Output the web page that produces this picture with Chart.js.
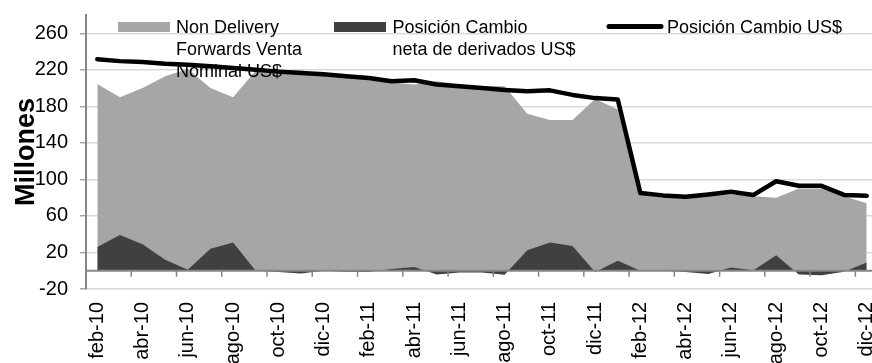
<!DOCTYPE html>
<html>
<head>
<meta charset="utf-8">
<script src="https://cdn.jsdelivr.net/npm/chart.js@4/dist/chart.umd.min.js"></script>
<style>
html,body{margin:0;padding:0;background:#fff;overflow:hidden;}
#wrap{width:878px;height:363px;}
</style>
</head>
<body>
<div id="wrap"><canvas id="c" width="878" height="363"></canvas></div>
<script>
const categories = ["feb-10","mar-10","abr-10","may-10","jun-10","jul-10","ago-10","sep-10","oct-10","nov-10","dic-10",
  "ene-11","feb-11","mar-11","abr-11","may-11","jun-11","jul-11","ago-11","sep-11","oct-11","nov-11","dic-11",
  "ene-12","feb-12","mar-12","abr-12","may-12","jun-12","jul-12","ago-12","sep-12","oct-12","nov-12","dic-12"];
const ndfVenta = [204.5,190,200,213,221,200,190,219,219.5,219.5,215,
  214,212.5,206,204,207.5,204,202,202,172,165,165,188,
  176.5,84,82,82,84,83.5,81.5,80,90,90,81.5,74];
const derivados = [26,39,29,12,1,24,31,0,-1.5,-3,0,
  -1,-1.5,2,4,-4,-2,-2,-4.5,22.5,31,27,-1.5,
  11,0,0,-1.5,-3.5,3.5,0.5,17,-4,-5,-1,9];
const posicion = [231.5,229.5,228.5,226.5,225.5,224,222,220,218,216.5,215,
  213,211,207.5,208.5,204,202,200,198,196.5,197.5,192.5,189,
  187.5,85,82.5,81,83.5,86.5,83,98,93,93,83,82];
const yTicks = [-20,20,60,100,140,180,220,260];
const seriesNames = ["Non Delivery Forwards Venta Nominal US$","Posición Cambio neta de derivados US$","Posición Cambio US$"];
const legendLines = [["Non Delivery","Forwards Venta","Nominal US$"],["Posición Cambio","neta de derivados US$"],["Posición Cambio US$"]];
const axisTitle = "Millones";

const FONT = "'Liberation Sans', Arial, sans-serif";
const C_LIGHT = '#a6a6a6', C_DARK = '#404040', C_LINE = '#000000', C_AXIS = '#868686';

const overlay = {
  id: 'overlay',
  afterDatasetsDraw(chart) {
    const ctx = chart.ctx, ca = chart.chartArea;
    const xs = chart.scales.x, ys = chart.scales.y;
    const y0 = ys.getPixelForValue(0);
    const half = (xs.getPixelForValue(1) - xs.getPixelForValue(0)) / 2;
    ctx.save();
    // zero axis line
    ctx.strokeStyle = C_AXIS; ctx.lineWidth = 2;
    ctx.beginPath(); ctx.moveTo(ca.left, y0); ctx.lineTo(ca.right, y0); ctx.stroke();
    ctx.lineWidth = 1.5;
    for (let i = 0; i < categories.length; i += 2) {
      const px = xs.getPixelForValue(i) - half;
      ctx.beginPath(); ctx.moveTo(px, y0); ctx.lineTo(px, y0 + 6); ctx.stroke();
    }
    // axis title
    ctx.save();
    ctx.translate(33.5, (ca.top + ca.bottom) / 2);
    ctx.rotate(-Math.PI / 2);
    ctx.fillStyle = '#000';
    ctx.font = "bold 27px " + FONT;
    ctx.textAlign = 'center'; ctx.textBaseline = 'alphabetic';
    ctx.fillText(axisTitle, 0, 0);
    ctx.restore();
    // legend
    const ds = chart.data.datasets;
    const items = [
      {d: ds[2], kind: 'box', x: 118, tx: 176},
      {d: ds[1], kind: 'box', x: 334, tx: 392.5},
      {d: ds[0], kind: 'line', x: 607, tx: 667}
    ];
    ctx.font = "18px " + FONT;
    ctx.textAlign = 'left'; ctx.textBaseline = 'alphabetic';
    items.forEach((it, k) => {
      if (it.kind === 'box') {
        ctx.fillStyle = it.d.backgroundColor;
        ctx.fillRect(it.x, 22, 52, 10);
      } else {
        ctx.strokeStyle = it.d.borderColor; ctx.lineWidth = 5; ctx.lineCap = 'round';
        ctx.beginPath(); ctx.moveTo(it.x + 2, 26.5); ctx.lineTo(it.x + 54, 26.5); ctx.stroke();
      }
      ctx.fillStyle = '#000';
      legendLines[[0,1,2][k]].forEach((t, j) => ctx.fillText(t, it.tx, 33.3 + j * 21.6));
    });
    ctx.restore();
  }
};

new Chart(document.getElementById('c'), {
  type: 'line',
  data: {
    labels: categories,
    datasets: [
      {label: seriesNames[2], data: posicion, borderColor: C_LINE, borderWidth: 4.5, pointRadius: 0,
       fill: false, order: 0, borderCapStyle: 'round', borderJoinStyle: 'round', tension: 0},
      {label: seriesNames[1], data: derivados, borderColor: C_DARK, backgroundColor: C_DARK, borderWidth: 0,
       pointRadius: 0, fill: 'origin', order: 1, tension: 0},
      {label: seriesNames[0], data: ndfVenta, borderColor: C_LIGHT, backgroundColor: C_LIGHT, borderWidth: 0,
       pointRadius: 0, fill: 'origin', order: 2, tension: 0}
    ]
  },
  options: {
    responsive: false,
    animation: false,
    devicePixelRatio: 1,
    layout: {padding: {top: 15, left: 0, right: 0, bottom: 0}},
    plugins: {legend: {display: false}, tooltip: {enabled: false}},
    scales: {
      x: {
        type: 'category', offset: true,
        grid: {display: false, drawTicks: false},
        border: {display: false},
        ticks: {autoSkip: false, maxRotation: 90, minRotation: 90, padding: 13, color: '#000',
                font: {family: FONT, size: 20},
                callback: (v, i) => (i % 2 === 0 ? categories[i] : '')},
        afterFit: (s) => { s.height = 74; s.paddingLeft = 0; s.paddingRight = 0; }
      },
      y: {
        min: -20, max: 280,
        afterBuildTicks: (s) => { s.ticks = yTicks.map(v => ({value: v})); },
        grid: {color: '#d9d9d9', lineWidth: 1.5, tickLength: 6, tickColor: '#a6a6a6', tickWidth: 1.5},
        border: {color: C_AXIS, width: 2},
        ticks: {padding: 12, color: '#000', font: {family: FONT, size: 20}},
        afterFit: (s) => { s.width = 86; s.paddingTop = 0; s.paddingBottom = 0; }
      }
    }
  },
  plugins: [overlay]
});
</script>
</body>
</html>
